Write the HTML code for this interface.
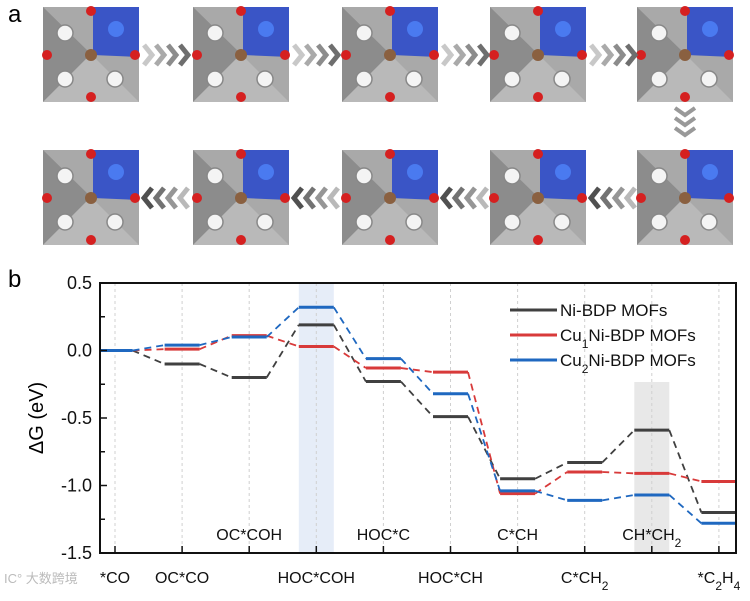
<!DOCTYPE html>
<html><head><meta charset="utf-8">
<style>
html,body{margin:0;padding:0;background:#fff;}
body{width:750px;height:596px;overflow:hidden;font-family:"Liberation Sans",Arial,sans-serif;}
svg text{font-family:"Liberation Sans",Arial,sans-serif;}
</style></head>
<body>
<svg id="fig" width="750" height="596" viewBox="0 0 750 596" xmlns="http://www.w3.org/2000/svg">
  <text x="8" y="22" font-size="24">a</text>
  <g id="panelA"></g>
  <text x="8" y="287" font-size="24">b</text>
  <g id="chart"></g>
</svg>
<script>
// ---- chart data ----
const categories = ["*CO","OC*CO","OC*COH","HOC*COH","HOC*C","HOC*CH","C*CH","C*CH2","CH*CH2","*C2H4"];
const niValues   = [0, -0.10, -0.20, 0.19, -0.23, -0.49, -0.95, -0.83, -0.59, -1.20];
const cu1Values  = [0, 0.01, 0.11, 0.03, -0.13, -0.16, -1.06, -0.90, -0.91, -0.97];
const cu2Values  = [0, 0.04, 0.10, 0.32, -0.06, -0.32, -1.04, -1.11, -1.07, -1.28];
const yTicks = [0.5, 0.0, -0.5, -1.0, -1.5];
const yTickLabels = ["0.5","0.0","-0.5","-1.0","-1.5"];
const seriesNames = ["Ni-BDP MOFs","Cu1Ni-BDP MOFs","Cu2Ni-BDP MOFs"];

const NS="http://www.w3.org/2000/svg";
function mk(tag,attrs,parent){const e=document.createElementNS(NS,tag);for(const k in attrs)e.setAttribute(k,attrs[k]);parent.appendChild(e);return e;}

// ---- panel a ----
const pa=document.getElementById('panelA');
const sqX=[43,193,342,490,637];
const rows=[7,150];
rows.forEach((y0,ri)=>{
  sqX.forEach((x0,ci)=>{
    const g=mk('g',{transform:`translate(${x0},${y0})`},pa);
    
    
    mk('rect',{x:0,y:0,width:96,height:95,fill:'#a9a9a9'},g);
    mk('polygon',{points:'0,0 48,47 0,95',fill:'#8c8c8c'},g);
    mk('polygon',{points:'96,95 48,47 0,95',fill:'#b9b9b9'},g);
    mk('polygon',{points:'50,0 96,0 96,50 50,48',fill:'#3a55c6'},g);
    mk('circle',{cx:73,cy:22,r:8,fill:'#4a7af0'},g);
    [[22,26],[22,72],[72,72]].forEach(p=>mk('circle',{cx:p[0],cy:p[1],r:8,fill:'#f4f4f4',stroke:'#888','stroke-width':1.5},g));
    [[48,4],[4,48],[92,48],[48,90]].forEach(p=>mk('circle',{cx:p[0],cy:p[1],r:5,fill:'#d52020'},g));
    mk('circle',{cx:48,cy:48,r:6,fill:'#8a6040'},g);
  });
});
function chev(x,y,dir,parent){
  for(let i=0;i<4;i++){
    const c=dir>0?(200-i*30):(80+i*35);
    const xx=x+i*12;
    const pts = dir>0 ? `${xx},${y-10} ${xx+8},${y} ${xx},${y+10}` : `${xx+8},${y-10} ${xx},${y} ${xx+8},${y+10}`;
    mk('polyline',{points:pts,fill:'none',stroke:`rgb(${c},${c},${c})`,'stroke-width':5},parent);
  }
}
[144,294,443,591].forEach(x=>chev(x,55,1,pa));
[144,294,443,591].forEach(x=>chev(x,198,-1,pa));
for(let i=0;i<3;i++){mk('polyline',{points:`675,${108+i*10} 685,${115+i*10} 695,${108+i*10}`,fill:'none',stroke:'#999','stroke-width':4},pa);}

// ---- chart ----
const ch=document.getElementById('chart');
const L=100,R=736,T=283,B=553;
const yMin=-1.5,yMax=0.5;
const xStep=67.1, x0=115;
function xPos(i){return x0+i*xStep;}
function yPos(v){return B-(v-yMin)/(yMax-yMin)*(B-T);}
const half=17.5;

const band1=mk('rect',{x:xPos(3)-half,y:T,width:2*half,height:B-T,fill:'#e6edf8'},ch);

const band2=mk('rect',{x:xPos(8)-half,y:382,width:2*half,height:B-382,fill:'#e8e8e8'},ch);


categories.forEach((c,i)=>{
  const gl=mk('line',{x1:xPos(i),x2:xPos(i),y1:T,y2:B,stroke:'#d0d0d0','stroke-width':1,'stroke-dasharray':'3,3'},ch);
  
});

const series=[{v:niValues,c:'#404040'},{v:cu1Values,c:'#d83a3a'},{v:cu2Values,c:'#1f68c0'}];
series.forEach((s,si)=>{
  const g=mk('g',{},ch);
  
  
  s.v.forEach((v,i)=>{
    const xa = i===0 ? L : xPos(i)-half;
    const xb = i===s.v.length-1 ? R : xPos(i)+half;
    const ln=mk('line',{x1:xa,x2:xb,y1:yPos(v),y2:yPos(v),stroke:s.c,'stroke-width':3},g);
    
    if(i<s.v.length-1){
      const cn=mk('line',{x1:xb,y1:yPos(v),x2:xPos(i+1)-half,y2:yPos(s.v[i+1]),stroke:s.c,'stroke-width':1.8,'stroke-dasharray':'7,5'},g);
      
    }
  });
});
const fr=mk('rect',{x:L,y:T,width:R-L,height:B-T,fill:'none',stroke:'#111','stroke-width':2},ch);


yTicks.forEach((t,i)=>{
  mk('line',{x1:L,x2:L+7,y1:yPos(t),y2:yPos(t),stroke:'#111','stroke-width':1.5},ch);
  const tx=mk('text',{x:L-8,y:yPos(t)+6,'font-size':18,'text-anchor':'end',fill:'#111'},ch);
  tx.textContent=yTickLabels[i];
  
  if(i<yTicks.length-1){const m=(t+yTicks[i+1])/2;mk('line',{x1:L,x2:L+5,y1:yPos(m),y2:yPos(m),stroke:'#111','stroke-width':1.5},ch);}
});
const yt=mk('text',{x:0,y:0,'font-size':20,'text-anchor':'middle',transform:`translate(43,418) rotate(-90)`},ch);
yt.textContent='ΔG (eV)';


function sub(txt){return txt.replace(/(C|H)(\d)/g,'$1<tspan baseline-shift="sub" font-size="12">$2</tspan>');}
categories.forEach((c,i)=>{
  mk('line',{x1:xPos(i),x2:xPos(i),y1:B,y2:B-7,stroke:'#111','stroke-width':1.5},ch);
  const lower = [0,1,3,5,7,9].includes(i);
  const y = lower ? 583 : 540;
  const tx=mk('text',{x:xPos(i),y:y,'font-size':16,'text-anchor':'middle',fill:'#111'},ch);
  tx.innerHTML=sub(c);
  
});

const lg=mk('g',{},ch);


const legLabels=['Ni-BDP MOFs','Cu<tspan baseline-shift="sub" font-size="12">1</tspan>Ni-BDP MOFs','Cu<tspan baseline-shift="sub" font-size="12">2</tspan>Ni-BDP MOFs'];
series.forEach((s,i)=>{
  const y=310+i*25;
  mk('line',{x1:510,x2:557,y1:y,y2:y,stroke:s.c,'stroke-width':3},lg);
  const t=mk('text',{x:560,y:y+6,'font-size':17,fill:'#111'},lg);
  t.innerHTML=legLabels[i];
  
});
const wm=mk('text',{x:4,y:583,'font-size':13,fill:'#bbb'},ch);
wm.setAttribute('style','font-family:"Liberation Sans","Noto Sans CJK SC",sans-serif');
wm.textContent='IC° 大数跨境';

</script>
</body></html>
